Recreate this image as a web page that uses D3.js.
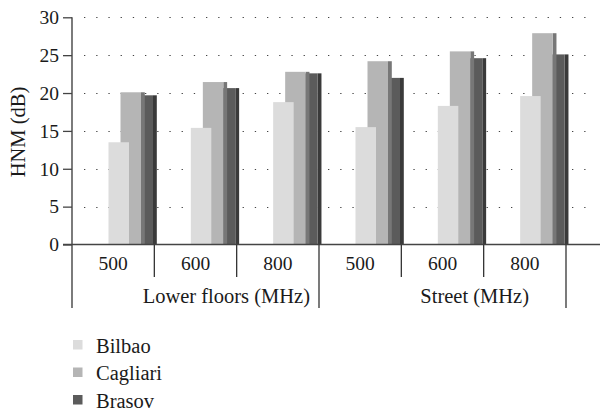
<!DOCTYPE html>
<html><head><meta charset="utf-8">
<script src="https://cdn.jsdelivr.net/npm/d3@7"></script>
<style>body{margin:0;background:#fff}svg{display:block}</style>
</head><body><svg id="c" width="600" height="411"></svg>
<script>
const categories = ["500","600","800","500","600","800"];
const groups = ["Lower floors (MHz)","Street (MHz)"];
const seriesNames = ["Bilbao","Cagliari","Brasov"];
const bilbao   = [13.5, 15.4, 18.8, 15.5, 18.3, 19.6];
const cagliari = [20.1, 21.45, 22.8, 24.2, 25.5, 27.9];
const brasov   = [19.7, 20.65, 22.6, 22.0, 24.6, 25.1];
const yTicks = [0,5,10,15,20,25,30];

const FONT = "'Liberation Serif', 'Times New Roman', serif";
const TXT = "#1a1a1a";
const frontColors = ["#dcdcdc","#b5b5b5","#5b5b5b"];
const sideColors  = ["#8c8c8c","#777777","#3a3a3a"];
const series = [bilbao, cagliari, brasov];

const svg = d3.select("#c");
const pLeft = 72, pRight = 566, pTop = 17.3, pBottom = 244.5;
const y = d3.scaleLinear().domain([0,30]).range([pBottom, pTop]);
const x = d3.scaleBand().domain(d3.range(categories.length)).range([pLeft, pRight]);
const bw = x.bandwidth();

// gridlines (dotted)
svg.append("g").selectAll("line").data(yTicks.filter(d=>d>0)).join("line")
  .attr("x1", 84).attr("x2", 592).attr("y1", d=>Math.round(y(d))+0.5).attr("y2", d=>Math.round(y(d))+0.5)
  .attr("stroke", "#444").attr("stroke-width", 1.2).attr("stroke-dasharray", "1.3,10.9");

// bars: draw back-to-front (Brasov, Cagliari, Bilbao)
const barW = 20.5, step = 12, sideW = 3.8, off = 36.5;
for (let s = 2; s >= 0; s--) {
  const g = svg.append("g");
  const vals = series[s];
  if (s > 0) {
    g.selectAll("rect.side").data(vals).join("rect").attr("class","side")
      .attr("x", (d,i)=>x(i)+off+s*step+barW).attr("width", sideW)
      .attr("y", d=>y(d)).attr("height", d=>y(0)-y(d)).attr("fill", sideColors[s]);
  }
  g.selectAll("rect.front").data(vals).join("rect").attr("class","front")
    .attr("x", (d,i)=>x(i)+off+s*step).attr("width", barW)
    .attr("y", d=>y(d)).attr("height", d=>y(0)-y(d)).attr("fill", frontColors[s]);
}

// y axis
const ya = svg.append("g").attr("transform", `translate(${pLeft},0)`)
  .call(d3.axisLeft(y).tickValues(yTicks).tickSize(9).tickPadding(4));
ya.select(".domain").remove();
ya.selectAll(".tick line").attr("stroke","#444").attr("stroke-width",1.3);
ya.selectAll(".tick text").style("font-size","19.5px").style("font-family",FONT).attr("fill",TXT);
svg.append("line").attr("x1", pLeft).attr("x2", pLeft).attr("y1", pTop).attr("y2", 308)
  .attr("stroke","#444").attr("stroke-width",1.4);

// x baseline
svg.append("line").attr("x1", 63).attr("x2", 600).attr("y1", y(0)).attr("y2", y(0))
  .attr("stroke","#444").attr("stroke-width",1.4);

// category dividers & labels
const cats = svg.append("g");
cats.selectAll("line").data(d3.range(1, categories.length).filter(i=>i%3!==0)).join("line")
  .attr("x1", i=>x(i)).attr("x2", i=>x(i)).attr("y1", y(0)).attr("y2", 277)
  .attr("stroke","#333").attr("stroke-width",1.3);
cats.selectAll("text").data(categories).join("text")
  .attr("x", (d,i)=>x(i)+bw/2).attr("y", 270).attr("text-anchor","middle")
  .style("font-size","19.5px").style("font-family",FONT).attr("fill",TXT).text(d=>d);

// group dividers & labels
const gs = svg.append("g");
gs.selectAll("line").data([3, 6]).join("line")
  .attr("x1", i=>i===6 ? pRight : x(i)).attr("x2", i=>i===6 ? pRight : x(i)).attr("y1", y(0)).attr("y2", 308)
  .attr("stroke","#333").attr("stroke-width",1.3);
gs.selectAll("text").data(groups).join("text")
  .attr("x", (d,i)=>i===0 ? x(3)-9 : x(5)-9).attr("y", 303)
  .attr("text-anchor", (d,i)=>i===0 ? "end" : "middle")
  .style("font-size","20.5px").style("font-family",FONT).attr("fill",TXT).text(d=>d);

// y title
svg.append("text").attr("transform","translate(25,132) rotate(-90)")
  .attr("text-anchor","middle").style("font-size","20.5px").style("font-family",FONT).attr("fill",TXT).text("HNM (dB)");

// legend
const lg = svg.append("g");
const legRows = lg.selectAll("g").data(seriesNames).join("g")
  .attr("transform",(d,i)=>`translate(73,${340 + i*27.5})`);
legRows.append("rect").attr("width",9.5).attr("height",9.5).attr("fill",(d,i)=>frontColors[i]);
legRows.append("text").attr("x",23).attr("y",12.5).style("font-size","20.5px").style("font-family",FONT).attr("fill",TXT).text(d=>d);
</script></body></html>
